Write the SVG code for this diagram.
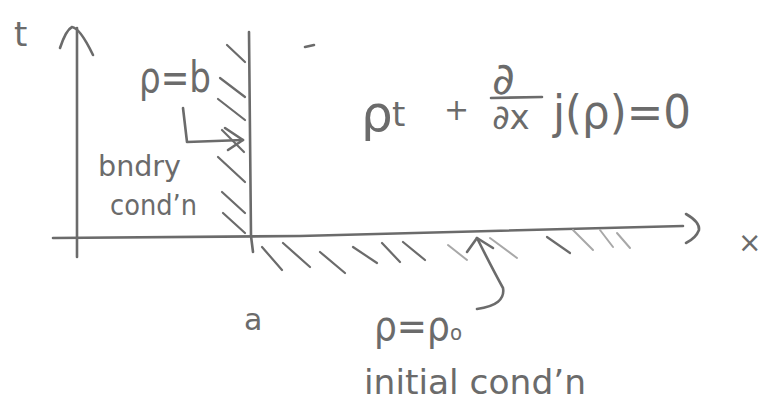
<svg xmlns="http://www.w3.org/2000/svg" width="760" height="412" viewBox="0 0 760 412">
<style>
.s{fill:none;stroke:#6b6b6b;stroke-width:2.6;stroke-linecap:round;stroke-linejoin:round}
.h{fill:none;stroke:#6b6b6b;stroke-width:2.2;stroke-linecap:round}
.hl{fill:none;stroke:#a8a8a8;stroke-width:2;stroke-linecap:round}
.t{fill:#6b6b6b;font-family:"DejaVu Sans","Liberation Sans",sans-serif}
</style>
<rect width="760" height="412" fill="#ffffff"/>
<g id="axes">
<path class="s" d="M77 28 L77 257"/>
<path class="s" d="M60 48 Q66 30 72 27 Q80 28 93 55"/>
<path class="s" d="M53 238 L300 236 L683 226"/>
<path class="s" d="M686 214 Q700 222 699 230 Q696 238 686 243"/>
<path class="s" d="M249 32 L251 236 L253 252"/>
<path class="s" d="M305 47 L314 45"/>
</g>
<g id="hatch-boundary">
<path class="h" d="M227 45 L245 62"/>
<path class="h" d="M220 78 L245 97"/>
<path class="h" d="M218 99 L245 120"/>
<path class="h" d="M222 130 L244 152"/>
<path class="h" d="M218 157 L245 182"/>
<path class="h" d="M222 192 L245 213"/>
<path class="h" d="M223 213 L245 233"/>
</g>
<g id="hatch-initial">
<path class="h" d="M262 247 L282 270"/>
<path class="h" d="M283 243 L310 267"/>
<path class="h" d="M320 252 L345 273"/>
<path class="h" d="M353 247 L377 263"/>
<path class="h" d="M382 243 L400 262"/>
<path class="h" d="M403 242 L425 260"/>
<path class="hl" d="M448 245 L467 260"/>
<path class="hl" d="M490 238 L517 258"/>
<path class="h" d="M547 237 L570 253"/>
<path class="hl" d="M573 230 L593 250"/>
<path class="hl" d="M600 230 L613 247"/>
<path class="hl" d="M617 233 L630 248"/>
</g>
<g id="connectors">
<path id="bc-arrow" class="s" d="M183 108 L187 142 L243 140"/>
<path class="s" d="M225 128 L243 140 L228 150"/>
<path id="ic-arrow" class="s" d="M477 238 Q492 268 503 288 Q506 305 477 309"/>
<path class="s" d="M467 252 L477 238 L493 248"/>
</g>
<g id="labels">
<text class="t" x="14" y="46" font-size="34">t</text>
<text class="t" x="738" y="252" font-size="28">×</text>
<text class="t" x="139" y="92" font-size="42" textLength="72" lengthAdjust="spacingAndGlyphs">ρ=b</text>
<text class="t" x="98" y="176" font-size="28" textLength="83" lengthAdjust="spacingAndGlyphs">bndry</text>
<text class="t" x="110" y="215" font-size="28" textLength="87" lengthAdjust="spacingAndGlyphs">cond’n</text>
<text class="t" x="244" y="330" font-size="30">a</text>
<text class="t" x="374" y="340" font-size="40" textLength="88" lengthAdjust="spacingAndGlyphs">ρ=ρ<tspan font-size="22">o</tspan></text>
<text class="t" x="364" y="394" font-size="34" textLength="222" lengthAdjust="spacingAndGlyphs">initial cond’n</text>
</g>
<g id="equation">
<text class="t" x="361" y="131" font-size="50">ρ</text>
<text class="t" x="392" y="126" font-size="34">t</text>
<text class="t" x="444" y="120" font-size="30">+</text>
<text class="t" x="492" y="94" font-size="44">∂</text>
<path class="s" d="M491 98 L542 97"/>
<text class="t" x="492" y="129" font-size="34">∂x</text>
<text class="t" x="553" y="128" font-size="46" textLength="138" lengthAdjust="spacingAndGlyphs">j(ρ)=0</text>
</g>
</svg>
